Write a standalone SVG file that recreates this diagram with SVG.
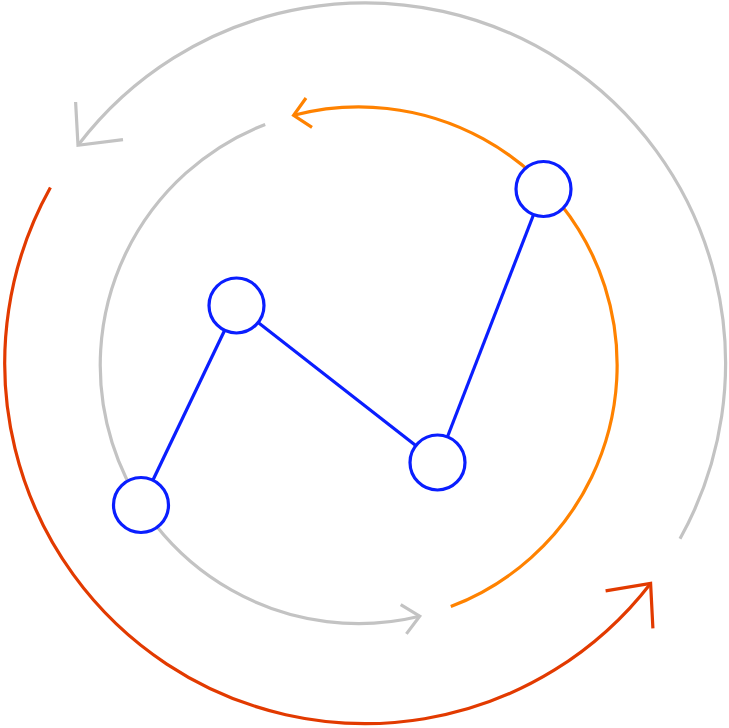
<svg xmlns="http://www.w3.org/2000/svg" width="729" height="728" viewBox="0 0 729 728">
<style>
.arc{fill:none;stroke-width:3.2}
.gray{stroke:#c3c3c3}
.red{stroke:#e23a00}
.orange{stroke:#ff8200}
.edge{stroke:#0a1eff;stroke-width:3.2;fill:none}
.node{fill:#ffffff;stroke:#0a1eff;stroke-width:3.2}
</style>
<rect width="729" height="728" fill="#ffffff"/>
<g id="connectors">
<path class="arc gray" d="M680,538.8 A360.5,360.5 0 0 0 78,145.3"/>
<polyline class="arc gray" points="75.6,102 78,145.3 123,139.7"/>
<path class="arc red" d="M50.4,187.5 A360.5,360.5 0 0 0 650.6,583.4"/>
<polyline class="arc red" points="605.6,590.8 650.6,583.4 652.9,628.4"/>
<path class="arc gray" d="M265.2,124.4 A258.3,258.3 0 0 0 419.7,616.2"/>
<polyline class="arc gray" points="400.7,604.6 419.7,616.2 406.4,633.9"/>
<path class="arc orange" d="M450.8,606.6 A258.3,258.3 0 0 0 293.6,115.3"/>
<polyline class="arc orange" points="306,98 293.6,115.3 312,127.3"/>
<line class="edge" x1="141" y1="505" x2="236.5" y2="305.5"/>
<line class="edge" x1="236.5" y1="305.5" x2="437.5" y2="462.5"/>
<line class="edge" x1="437.5" y1="462.5" x2="543.5" y2="189"/>
</g>
<g id="node1"><circle class="node" cx="141" cy="505" r="27.5"/></g>
<g id="node2"><circle class="node" cx="236.5" cy="305.5" r="27.5"/></g>
<g id="node3"><circle class="node" cx="437.5" cy="462.5" r="27.5"/></g>
<g id="node4"><circle class="node" cx="543.5" cy="189" r="27.5"/></g>
</svg>
